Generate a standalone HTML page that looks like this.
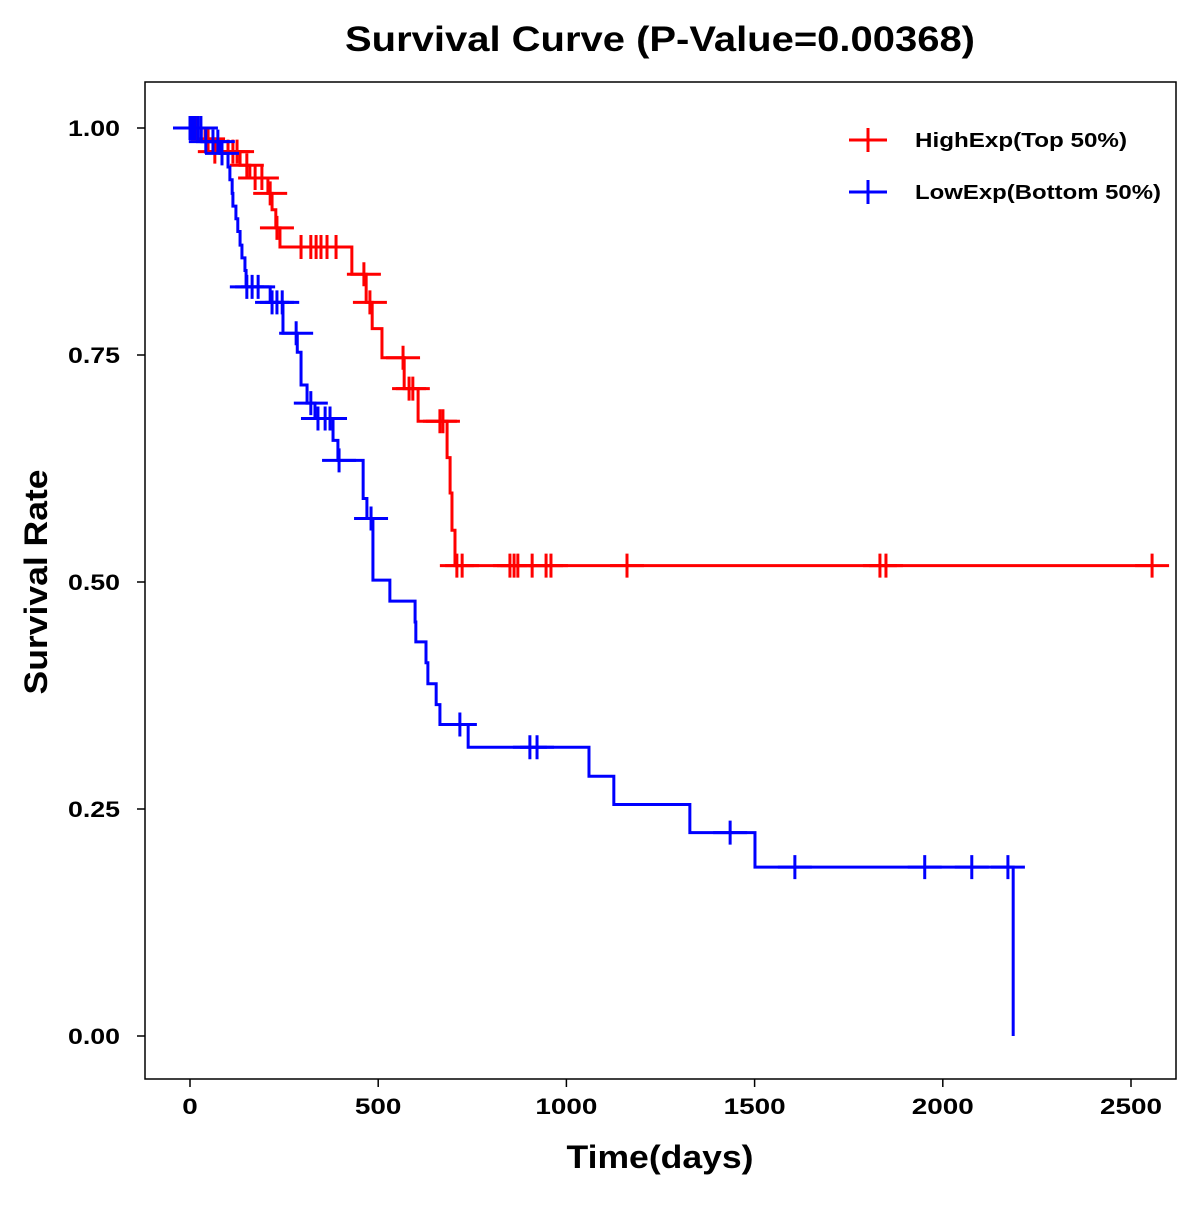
<!DOCTYPE html>
<html><head><meta charset="utf-8"><style>
body{margin:0;background:#fff;}
svg text{font-family:"Liberation Sans",Arial,sans-serif;font-weight:bold;}
</style></head><body>
<svg id="chart" width="1200" height="1200" viewBox="0 0 1200 1200"></svg>
<script>
const xTicks=[0,500,1000,1500,2000,2500];
const yTicks=[0,0.25,0.5,0.75,1.0];
const yTickLabels=["0.00","0.25","0.50","0.75","1.00"];
const highTimes=[0,40,66,133,159,207,218,228,239,430,468,484,510,569,606,683,691,696,704,2556];
const highSurv=[1,0.988,0.974,0.959,0.945,0.928,0.910,0.890,0.869,0.839,0.808,0.779,0.747,0.713,0.677,0.637,0.598,0.557,0.518,0.518];
const highCensor=[19,48,66,85,101,114,125,151,173,191,213,231,295,321,335,348,364,388,462,478,566,582,592,664,672,709,723,850,861,871,909,946,959,1161,1833,1849,2556];
const lowTimes=[0,30,80,101,106,112,114,122,127,133,138,146,149,213,247,285,295,311,332,380,393,460,470,486,531,598,600,627,632,654,664,739,1060,1126,1328,1501,2187];
const lowSurv=[1,0.985,0.972,0.957,0.943,0.928,0.914,0.9,0.886,0.871,0.857,0.843,0.825,0.808,0.774,0.753,0.717,0.697,0.680,0.656,0.634,0.592,0.57,0.502,0.479,0.456,0.434,0.411,0.388,0.365,0.343,0.318,0.286,0.255,0.224,0.186,0];
const lowCensor=[0,5,10,13,21,29,42,61,74,85,151,165,181,218,231,245,282,321,340,359,372,396,481,717,903,922,1435,1607,1952,2077,2173];

const NS="http://www.w3.org/2000/svg";
const svg=document.getElementById('chart');
const X=t=>190+t*941/2500;
const Y=s=>1036-s*908;
function el(tag,attrs,parent){const e=document.createElementNS(NS,tag);for(const k in attrs)e.setAttribute(k,attrs[k]);(parent||svg).appendChild(e);return e;}

const frame=el('rect',{x:145,y:82,width:1031,height:997,fill:'none',stroke:'#000','stroke-width':1.5});



const title=el('text',{x:660,y:51,'text-anchor':'middle','font-size':35,textLength:630,lengthAdjust:'spacingAndGlyphs'});
title.textContent='Survival Curve (P-Value=0.00368)';



xTicks.forEach(v=>{
  const l=el('line',{x1:X(v),x2:X(v),y1:1079,y2:1087,stroke:'#000','stroke-width':1.5});
  
  
  const s=String(v);
  const t=el('text',{x:X(v),y:1114,'text-anchor':'middle','font-size':22,textLength:s.length*15.5,lengthAdjust:'spacingAndGlyphs'});
  t.textContent=s;
  
  
});
yTicks.forEach((v,i)=>{
  const l=el('line',{x1:137,x2:145,y1:Y(v),y2:Y(v),stroke:'#000','stroke-width':1.5});
  
  
  const t=el('text',{x:120,y:Y(v)+8,'text-anchor':'end','font-size':22,textLength:52,lengthAdjust:'spacingAndGlyphs'});
  t.textContent=yTickLabels[i];
  
  
});
const xl=el('text',{x:660,y:1168,'text-anchor':'middle','font-size':32,textLength:187,lengthAdjust:'spacingAndGlyphs'});
xl.textContent='Time(days)';


const yl=el('text',{x:0,y:0,'text-anchor':'middle','font-size':32,textLength:225,lengthAdjust:'spacingAndGlyphs',transform:'translate(47,582) rotate(-90)'});
yl.textContent='Survival Rate';



function survAt(times,surv,t){let s=surv[0];for(let i=0;i<times.length;i++){if(times[i]<=t)s=surv[i];}return s;}
function drawSeries(times,surv,cens,color,name){
  let d='M'+X(times[0])+','+Y(surv[0]);
  for(let i=1;i<times.length;i++){d+=' H'+X(times[i])+' V'+Y(surv[i]);}
  const p=el('path',{d:d,fill:'none',stroke:color,'stroke-width':3});
  
  
  cens.forEach(t=>{
    const cx=X(t),cy=Y(survAt(times,surv,t));
    const c=el('path',{d:`M${cx-17},${cy}H${cx+17}M${cx},${cy-12}V${cy+12}`,stroke:color,'stroke-width':3,fill:'none'});
    
    
  });
}
drawSeries(highTimes,highSurv,highCensor,'#ff0000','high-exp');
drawSeries(lowTimes,lowSurv,lowCensor,'#0000ff','low-exp');

[['#ff0000','HighExp(Top 50%)',140,'legend-entry-high',212],['#0000ff','LowExp(Bottom 50%)',192,'legend-entry-low',246]].forEach(([c,txt,y,n,w])=>{
  const g=el('g',{});
  
  
  el('path',{d:`M849,${y}H887M868,${y-12}V${y+12}`,stroke:c,'stroke-width':3},g);
  const t=el('text',{x:915,y:y+7,'font-size':20,textLength:w,lengthAdjust:'spacingAndGlyphs'},g);
  t.textContent=txt;
});
</script>
</body></html>
